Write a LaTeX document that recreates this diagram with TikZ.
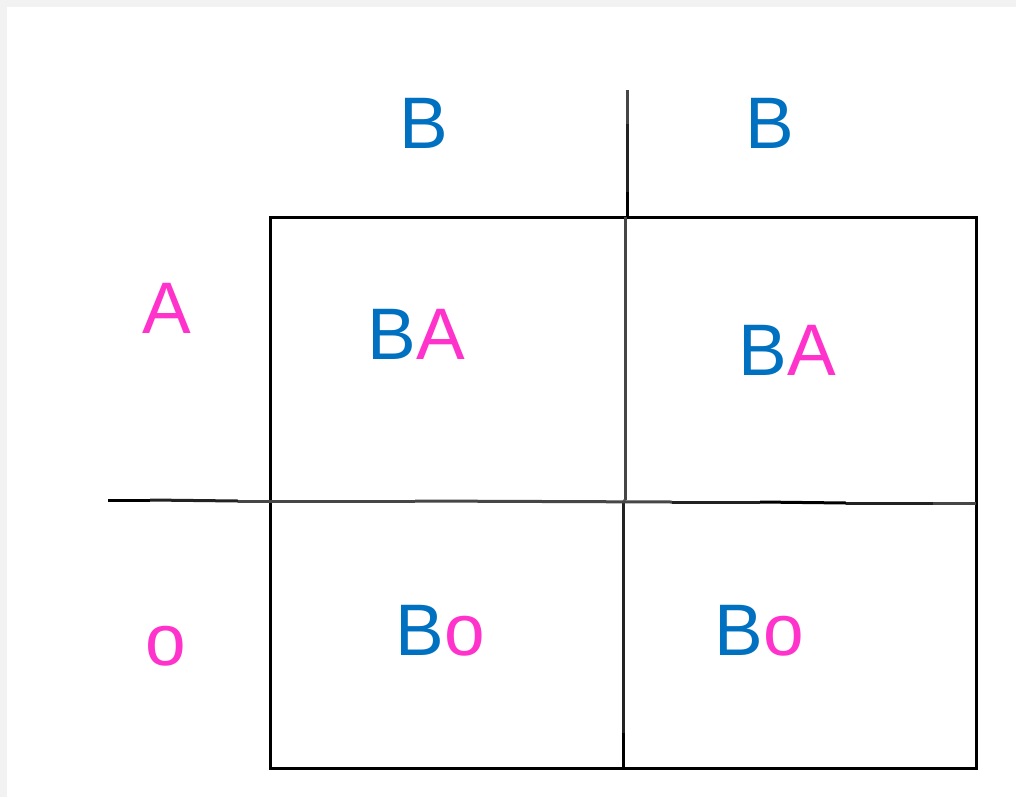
\documentclass[tikz,border=0pt]{standalone}
\usepackage{fontspec}
\setmainfont{Liberation Sans}
\definecolor{gblue}{RGB}{0,112,192}
\definecolor{gpink}{RGB}{255,51,204}
\definecolor{bgrey}{RGB}{242,242,242}
\definecolor{ln1}{RGB}{34,34,34}
\definecolor{ln2}{RGB}{70,70,70}
\definecolor{ln3}{RGB}{110,110,110}
\tikzset{
  lbl/.style={anchor=base, inner sep=0pt, font=\fontsize{73}{80}\selectfont},
  grid/.style={line width=3pt},
}
\begin{document}
\begin{tikzpicture}[x=1pt,y=-1pt]
\useasboundingbox (0,0) rectangle (1016,797);
\fill[bgrey] (0,0) rectangle (1016,797);
\fill[white] (7,7) rectangle (1016,797);
% outer box
\coordinate (tl) at (270,217);
\coordinate (br) at (976,768);
\draw[grid,black] (tl) rectangle (br);
% top vertical divider
\coordinate (vt0) at (627,90);
\coordinate (vt1) at (627,124);
\coordinate (vt2) at (627,192);
\coordinate (vt3) at (627,217);
\draw[grid,ln2] (vt0) -- (vt1);
\draw[grid,ln1] (vt1) -- (vt2);
\draw[grid,black] (vt2) -- (vt3);
% inner vertical divider
\coordinate (vi0) at (625,217);
\coordinate (vi1) at (625,500);
\coordinate (vi2) at (623,503);
\coordinate (vi3) at (623,733);
\coordinate (vi4) at (623,768);
\draw[grid,ln2] (vi0) -- (vi1);
\draw[grid,ln3] (vi1) -- (vi2);
\draw[grid,ln1] (vi2) -- (vi3);
\draw[grid,black] (vi3) -- (vi4);
% horizontal divider
\coordinate (h0) at (108,500);
\coordinate (h1) at (150,500);
\coordinate (h2) at (238,501);
\coordinate (h3) at (415,501);
\coordinate (h4) at (672,502);
\coordinate (h5) at (760,502);
\coordinate (h6) at (846,503);
\coordinate (h7) at (933,503);
\coordinate (h8) at (976,503);
\draw[grid,black] (h0) -- (h1);
\draw[grid,ln1] (h1) -- (h2);
\draw[grid,ln2] (h2) -- (h3);
\draw[grid,ln2] (h3) -- (h4);
\draw[grid,ln1] (h4) -- (h5);
\draw[grid,black] (h5) -- (h6);
\draw[grid,ln1] (h6) -- (h7);
\draw[grid,ln2] (h7) -- (h8);
% labels
\node[lbl,text=gblue] (b1) at (424,148) {B};
\node[lbl,text=gblue] (b2) at (770,148) {B};
\node[lbl,text=gpink] (a1) at (167,333) {A};
\node[lbl,text=gpink] (o1) at (166,665) {o};
\node[lbl] (c11) at (416,359) {\textcolor{gblue}{B}\textcolor{gpink}{A}};
\node[lbl] (c12) at (787,375) {\textcolor{gblue}{B}\textcolor{gpink}{A}};
\node[lbl] (c21) at (440,655) {\textcolor{gblue}{B}\textcolor{gpink}{o}};
\node[lbl] (c22) at (759,655) {\textcolor{gblue}{B}\textcolor{gpink}{o}};
\end{tikzpicture}
\end{document}
